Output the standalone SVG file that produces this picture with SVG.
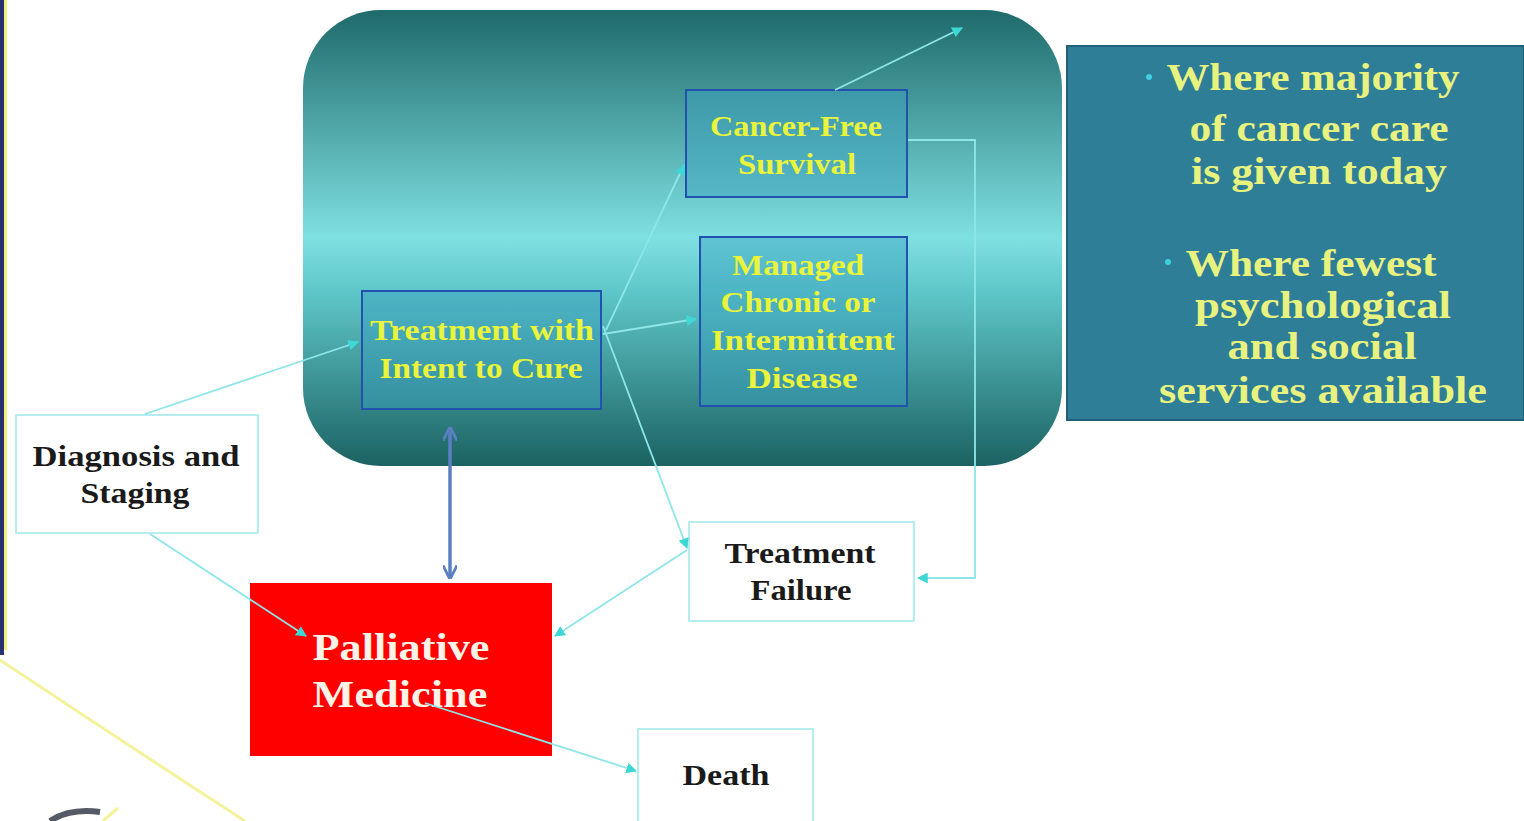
<svg xmlns="http://www.w3.org/2000/svg" width="1524" height="821" viewBox="0 0 1524 821">
<defs>
<linearGradient id="tealGrad" x1="0" y1="0" x2="0" y2="1">
<stop offset="0" stop-color="#1f6a6a"/>
<stop offset="0.5" stop-color="#7fe0e2"/>
<stop offset="0.62" stop-color="#5ec6c8"/>
<stop offset="1" stop-color="#1c6262"/>
</linearGradient>
<marker id="arr" viewBox="0 0 10 10" refX="9" refY="5" markerWidth="6" markerHeight="6" orient="auto-start-reverse" markerUnits="strokeWidth">
<path d="M0,0 L10,5 L0,10 z" fill="#3fd6d6"/>
</marker>
<marker id="vArr" viewBox="0 0 10 10" refX="9" refY="5" markerWidth="4" markerHeight="4" orient="auto-start-reverse" markerUnits="strokeWidth">
<path d="M0,0 L10,5 L0,10" fill="none" stroke="#5a7fc2" stroke-width="2"/>
</marker>
</defs>
<style>
.conn{fill:none;stroke:#8ee6e8;stroke-width:1.8}
.tealbox{fill:#3a9fc0;fill-opacity:0.45;stroke:#2152b0;stroke-width:2}
.ytxt{font-family:"Liberation Serif",serif;font-weight:bold;font-size:29px;fill:#e9f43a;text-anchor:middle}
.btxt{font-family:"Liberation Serif",serif;font-weight:bold;font-size:29px;fill:#1a1a1a;text-anchor:middle}
.wbox{fill:#ffffff;stroke:#9ee8ea;stroke-width:1.5}
.ptxt{font-family:"Liberation Serif",serif;font-weight:bold;font-size:38px;fill:#e8f27e;text-anchor:middle}
</style>
<rect width="1524" height="821" fill="#ffffff"/>
<g id="decor">
<rect x="0" y="0" width="4" height="655" fill="#2a3170"/>
<rect x="4" y="0" width="3" height="650" fill="#f2f07a"/>
<path d="M0,660 Q120,740 245,821" fill="none" stroke="#f4f29a" stroke-width="3"/>
<path d="M50,821 Q70,808 100,812" fill="none" stroke="#555a66" stroke-width="6"/>
<path d="M103,821 L118,808" fill="none" stroke="#f4f29a" stroke-width="3"/>
</g>
<g id="zone">
<rect x="303" y="10" width="759" height="456" rx="78" ry="78" fill="url(#tealGrad)"/>
</g>
<g id="cancer-free">
<rect class="tealbox" x="686" y="90" width="221" height="107"/>
<text class="ytxt" x="796" y="136" textLength="172" lengthAdjust="spacingAndGlyphs">Cancer-Free</text>
<text class="ytxt" x="797" y="174" textLength="118" lengthAdjust="spacingAndGlyphs">Survival</text>
</g>
<g id="managed">
<rect class="tealbox" x="700" y="237" width="207" height="169"/>
<text class="ytxt" x="798" y="275" textLength="132" lengthAdjust="spacingAndGlyphs">Managed</text>
<text class="ytxt" x="798" y="312" textLength="155" lengthAdjust="spacingAndGlyphs">Chronic or</text>
<text class="ytxt" x="803" y="350" textLength="184" lengthAdjust="spacingAndGlyphs">Intermittent</text>
<text class="ytxt" x="802" y="388" textLength="111" lengthAdjust="spacingAndGlyphs">Disease</text>
</g>
<g id="treatment-cure">
<rect class="tealbox" x="362" y="291" width="239" height="118"/>
<text class="ytxt" x="482" y="340" textLength="224" lengthAdjust="spacingAndGlyphs">Treatment with</text>
<text class="ytxt" x="481" y="378" textLength="203" lengthAdjust="spacingAndGlyphs">Intent to Cure</text>
</g>
<g id="panel">
<rect x="1067" y="46" width="457" height="374" fill="#2f7e98" stroke="#1f5f78" stroke-width="2"/>
<circle cx="1149" cy="77" r="3" fill="#3fd0e0"/>
<circle cx="1168" cy="262" r="3" fill="#3fd0e0"/>
<text class="ptxt" x="1313" y="90" textLength="293" lengthAdjust="spacingAndGlyphs">Where majority</text>
<text class="ptxt" x="1319" y="141" textLength="259" lengthAdjust="spacingAndGlyphs">of cancer care</text>
<text class="ptxt" x="1319" y="184" textLength="256" lengthAdjust="spacingAndGlyphs">is given today</text>
<text class="ptxt" x="1311" y="276" textLength="251" lengthAdjust="spacingAndGlyphs">Where fewest</text>
<text class="ptxt" x="1323" y="318" textLength="256" lengthAdjust="spacingAndGlyphs">psychological</text>
<text class="ptxt" x="1322" y="359" textLength="189" lengthAdjust="spacingAndGlyphs">and social</text>
<text class="ptxt" x="1323" y="403" textLength="328" lengthAdjust="spacingAndGlyphs">services available</text>
</g>
<g id="diagnosis">
<rect class="wbox" x="16" y="415" width="242" height="118"/>
<text class="btxt" x="136" y="466" textLength="207" lengthAdjust="spacingAndGlyphs">Diagnosis and</text>
<text class="btxt" x="135" y="503" textLength="109" lengthAdjust="spacingAndGlyphs">Staging</text>
</g>
<g id="palliative">
<rect x="250" y="583" width="302" height="173" fill="#ff0000"/>
<text x="401" y="660" font-family="Liberation Serif, serif" font-weight="bold" font-size="38" fill="#fff3e8" text-anchor="middle" textLength="177" lengthAdjust="spacingAndGlyphs">Palliative</text>
<text x="400" y="707" font-family="Liberation Serif, serif" font-weight="bold" font-size="38" fill="#fff3e8" text-anchor="middle" textLength="175" lengthAdjust="spacingAndGlyphs">Medicine</text>
</g>
<g id="treatment-failure">
<rect class="wbox" x="689" y="522" width="225" height="99"/>
<text class="btxt" x="800" y="563" textLength="151" lengthAdjust="spacingAndGlyphs">Treatment</text>
<text class="btxt" x="801" y="600" textLength="101" lengthAdjust="spacingAndGlyphs">Failure</text>
</g>
<g id="death">
<rect class="wbox" x="638" y="729" width="175" height="96"/>
<text class="btxt" x="726" y="785" textLength="87" lengthAdjust="spacingAndGlyphs">Death</text>
</g>
<g id="connectors">
<line class="conn" x1="145" y1="414" x2="358" y2="342" marker-end="url(#arr)"/>
<line class="conn" x1="150" y1="534" x2="306" y2="636" marker-end="url(#arr)"/>
<line class="conn" x1="606" y1="330" x2="684" y2="165" marker-end="url(#arr)"/>
<line class="conn" x1="603" y1="334" x2="696" y2="319" marker-end="url(#arr)"/>
<line class="conn" x1="603" y1="326" x2="687" y2="548" marker-end="url(#arr)"/>
<polyline class="conn" points="908,140 975,140 975,578 918,578" marker-end="url(#arr)"/>
<line class="conn" x1="835" y1="90" x2="962" y2="28" marker-end="url(#arr)"/>
<line class="conn" x1="687" y1="550" x2="555" y2="636" marker-end="url(#arr)"/>
<line class="conn" x1="425" y1="703" x2="636" y2="771" marker-end="url(#arr)"/>
<line x1="450" y1="428" x2="450" y2="578" stroke="#5a7fc2" stroke-width="3.5" marker-start="url(#vArr)" marker-end="url(#vArr)"/>
</g>
</svg>
